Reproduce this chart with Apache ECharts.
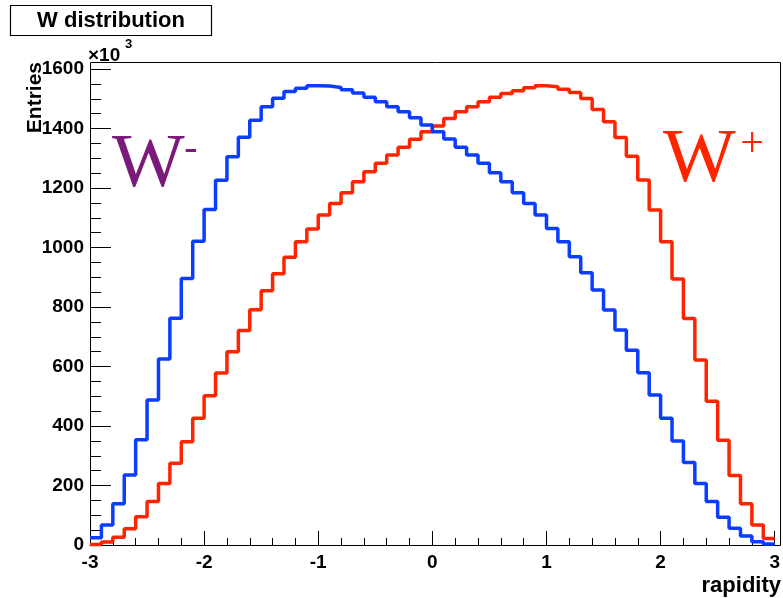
<!DOCTYPE html>
<html>
<head>
<meta charset="utf-8">
<title>W distribution</title>
<script src="https://cdn.jsdelivr.net/npm/echarts@6/dist/echarts.min.js"></script>
<style>
  html, body { margin: 0; padding: 0; background: #ffffff; }
  #chart { width: 783px; height: 598px; }
</style>
</head>
<body>
<div id="chart"></div>
<script>
// Histogram binning: 60 bins of width 0.1 covering rapidity -3 .. 3
const binLow = -3;
const binWidth = 0.1;

// Axis ticks
const rapidityTicks = [-3, -2, -1, 0, 1, 2, 3];
const entriesTicks = [0, 200, 400, 600, 800, 1000, 1200, 1400, 1600];

// Entries per bin, in units of 10^3
const wMinus = [
  24, 67, 139, 235, 354, 487, 625, 762, 896, 1021,
  1128, 1226, 1305, 1371, 1428, 1473, 1502, 1524, 1535, 1544,
  1543, 1538, 1530, 1519, 1505, 1490, 1473, 1456, 1436, 1412,
  1389, 1365, 1337, 1311, 1283, 1251, 1221, 1184, 1148, 1109,
  1064, 1019, 969, 915, 857, 790, 723, 655, 579, 504,
  426, 350, 277, 207, 146, 93, 56, 30, 11, 3
];
const wPlus = [
  2, 10, 26, 55, 95, 146, 207, 275, 347, 426,
  502, 578, 650, 721, 791, 855, 912, 967, 1019, 1062,
  1109, 1148, 1184, 1221, 1255, 1283, 1311, 1337, 1364, 1389,
  1408, 1434, 1456, 1473, 1490, 1505, 1518, 1527, 1537, 1544,
  1540, 1532, 1521, 1501, 1464, 1423, 1370, 1307, 1227, 1126,
  1019, 894, 761, 622, 483, 352, 234, 139, 67, 22
];

const colMinus = '#0a3dff';
const colPlus = '#ff2400';
const colLabelMinus = '#7a1a7b';

// Plot area: the value axis spans 0..1600, the frame reaches a little higher
const plotLeft = 90, plotRight = 780, plotBottom = 545, axisTop = 69, frameTop = 62;

// Turn bin contents into [lowEdge, value] points, closing the last bin at its high edge
function histogramSteps(values) {
  const pts = values.map((v, i) => [+(binLow + i * binWidth).toFixed(2), v]);
  pts.push([+(binLow + values.length * binWidth).toFixed(2), values[values.length - 1]]);
  return pts;
}

const labelFont = { color: '#000', fontFamily: 'Liberation Sans, Arial, sans-serif', fontWeight: 'bold', fontSize: 19 };

function textEl(x, y, text, font, fill, align, vAlign, extra) {
  return Object.assign({
    type: 'text', x: x, y: y, z: 11,
    style: {
      text: text, fill: fill, font: font,
      align: align, verticalAlign: vAlign,
      textAlign: align, textVerticalAlign: vAlign
    }
  }, extra || {});
}

const chart = echarts.init(document.getElementById('chart'), null, { renderer: 'canvas' });

chart.setOption({
  animation: false,
  backgroundColor: '#ffffff',
  grid: {
    left: plotLeft, top: axisTop, width: plotRight - plotLeft, height: plotBottom - axisTop,
    show: false
  },
  xAxis: {
    type: 'value',
    min: rapidityTicks[0],
    max: rapidityTicks[rapidityTicks.length - 1],
    interval: 1,
    axisLine: { show: true, onZero: false, lineStyle: { color: '#000', width: 1 } },
    axisTick: { show: true, inside: true, length: 14, lineStyle: { color: '#000', width: 1 } },
    minorTick: { show: true, splitNumber: 5, length: 7, lineStyle: { color: '#000', width: 1 } },
    splitLine: { show: false },
    minorSplitLine: { show: false },
    axisLabel: Object.assign({
      margin: 8, showMinLabel: true, showMaxLabel: true,
      formatter: v => String(v)
    }, labelFont)
  },
  yAxis: {
    type: 'value',
    position: 'left',
    min: entriesTicks[0],
    max: entriesTicks[entriesTicks.length - 1],
    interval: 200,
    axisLine: { show: true, onZero: false, lineStyle: { color: '#000', width: 1 } },
    axisTick: { show: true, inside: true, length: 21, lineStyle: { color: '#000', width: 1 } },
    minorTick: { show: true, splitNumber: 4, length: 11, lineStyle: { color: '#000', width: 1 } },
    splitLine: { show: false },
    minorSplitLine: { show: false },
    axisLabel: Object.assign({
      margin: 6, showMinLabel: true, showMaxLabel: true,
      formatter: v => String(v)
    }, labelFont)
  },
  series: [
    {
      name: 'W+',
      type: 'line',
      step: 'end',
      showSymbol: false,
      symbol: 'none',
      clip: false,
      data: histogramSteps(wPlus),
      lineStyle: { color: colPlus, width: 3.5 },
      z: 3
    },
    {
      name: 'W-',
      type: 'line',
      step: 'end',
      showSymbol: false,
      symbol: 'none',
      clip: false,
      data: histogramSteps(wMinus),
      lineStyle: { color: colMinus, width: 3.5 },
      z: 4
    }
  ],
  graphic: [
    // plot frame
    {
      type: 'rect',
      shape: { x: plotLeft + 0.5, y: frameTop + 0.5, width: plotRight - plotLeft, height: plotBottom - frameTop },
      style: { fill: 'none', stroke: '#000', lineWidth: 1 },
      silent: true,
      z: 1
    },
    // title box
    {
      type: 'rect',
      shape: { x: 10.5, y: 5.5, width: 201, height: 30 },
      style: { fill: '#fff', stroke: '#000', lineWidth: 1.2 },
      z: 10
    },
    textEl(111, 21, 'W distribution', 'bold 22px "Liberation Sans", Arial, sans-serif', '#000', 'center', 'middle'),
    // axis multiplier
    textEl(88, 56, '×10', 'bold 19px "Liberation Sans", Arial, sans-serif', '#000', 'left', 'middle'),
    textEl(125, 44, '3', 'bold 13px "Liberation Sans", Arial, sans-serif', '#000', 'left', 'middle'),
    // axis titles
    textEl(35, 62, 'Entries', 'bold 21px "Liberation Sans", Arial, sans-serif', '#000', 'right', 'middle',
      { rotation: Math.PI / 2 }),
    textEl(781, 586, 'rapidity', 'bold 22px "Liberation Sans", Arial, sans-serif', '#000', 'right', 'middle'),
    // curve labels
    textEl(112, 204, 'W', '77px "Liberation Serif", "Times New Roman", serif', colLabelMinus, 'left', 'bottom'),
    textEl(191, 149, '-', '40px "Liberation Serif", "Times New Roman", serif', colLabelMinus, 'center', 'middle'),
    textEl(663, 199, 'W', '77px "Liberation Serif", "Times New Roman", serif', colPlus, 'left', 'bottom'),
    textEl(752, 145, '+', '42px "Liberation Serif", "Times New Roman", serif', colPlus, 'center', 'middle')
  ]
});
</script>
</body>
</html>
